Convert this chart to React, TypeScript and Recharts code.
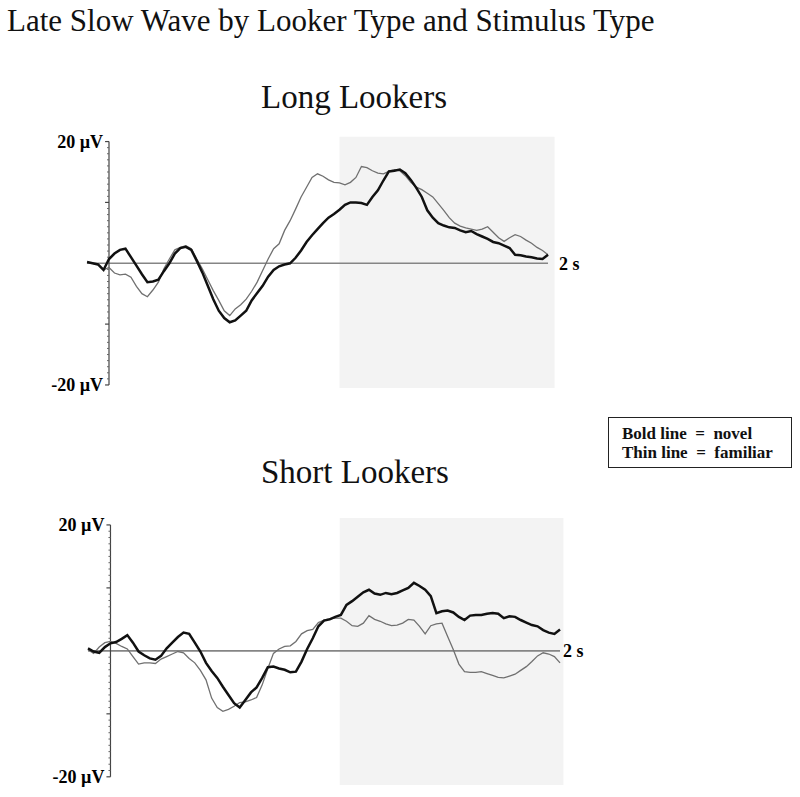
import { LineChart, Line, XAxis, YAxis, ReferenceArea, ReferenceLine } from "recharts";

const serif = '"Liberation Serif", "Times New Roman", serif';

// time in seconds, -100 ms baseline to 2 s
const times = [
  -0.1, -0.075, -0.05, -0.025, 0, 0.025, 0.05, 0.075, 0.1, 0.125,
  0.15, 0.175, 0.2, 0.225, 0.25, 0.275, 0.3, 0.325, 0.35, 0.375,
  0.4, 0.425, 0.45, 0.475, 0.5, 0.525, 0.55, 0.575, 0.6, 0.625,
  0.65, 0.675, 0.7, 0.725, 0.75, 0.775, 0.8, 0.825, 0.85, 0.875,
  0.9, 0.925, 0.95, 0.975, 1.0, 1.025, 1.05, 1.075, 1.1, 1.125,
  1.15, 1.175, 1.2, 1.225, 1.25, 1.275, 1.3, 1.325, 1.35, 1.375,
  1.4, 1.425, 1.45, 1.475, 1.5, 1.525, 1.55, 1.575, 1.6, 1.625,
  1.65, 1.675, 1.7, 1.725, 1.75, 1.775, 1.8, 1.825, 1.85, 1.875,
  1.9, 1.925, 1.95, 1.975, 2.0,
];

// µV, Long Lookers
const longNovel = [
  0.2, 0.0, -0.2, -1.1, 0.7, 1.6, 2.2, 2.4, 1.0, -0.4,
  -1.8, -3.1, -3.0, -2.7, -1.3, 0.0, 1.6, 2.5, 2.7, 2.2,
  0.4, -1.5, -3.7, -5.9, -7.8, -9.0, -9.7, -9.4, -8.6, -7.8,
  -6.1, -4.9, -3.7, -2.2, -1.1, -0.5, -0.2, 0.0, 0.9, 2.1,
  3.5, 4.6, 5.6, 6.6, 7.5, 8.1, 8.8, 9.6, 10.0, 10.0,
  9.9, 9.6, 10.9, 12.0, 13.6, 15.1, 15.2, 15.4, 14.8, 13.7,
  12.4, 10.9, 8.7, 7.5, 6.6, 6.2, 5.9, 5.8, 5.4, 5.1,
  5.3, 4.8, 4.4, 4.0, 3.5, 3.3, 2.9, 2.5, 1.4, 1.3,
  1.1, 1.0, 0.8, 0.7, 1.4,
];
const longFamiliar = [
  0.2, 0.0, -0.2, -1.1, -0.7, -1.6, -1.9, -1.8, -2.3, -3.8,
  -5.0, -5.5, -4.4, -3.1, -0.9, 0.7, 2.2, 2.6, 2.9, 2.4,
  0.7, -0.9, -2.7, -4.5, -6.1, -7.8, -8.6, -7.5, -6.8, -5.9,
  -4.6, -3.1, -1.2, 0.7, 2.4, 3.2, 5.4, 7.0, 8.9, 10.9,
  12.5, 14.1, 14.7, 14.3, 13.7, 13.3, 13.2, 12.9, 13.3, 14.1,
  15.9, 15.7, 15.2, 14.8, 14.7, 15.1, 15.4, 15.2, 14.4, 13.3,
  12.5, 12.1, 11.5, 10.9, 9.8, 8.7, 7.5, 6.6, 6.1, 5.8,
  5.6, 5.4, 5.6, 6.0, 5.1, 4.2, 3.6, 4.2, 4.7, 4.4,
  3.8, 3.3, 2.6, 2.1, 1.4,
];

// µV, Short Lookers
const shortNovel = [
  0.4, -0.1, -0.3, 0.6, 1.2, 1.4, 1.9, 2.5, 1.3, -0.1,
  -0.7, -1.2, -1.4, -0.8, 0.4, 1.3, 2.2, 2.9, 2.7, 1.3,
  -0.1, -1.9, -3.2, -4.3, -5.7, -7.0, -8.3, -9.0, -7.8, -6.6,
  -5.8, -4.3, -2.6, -2.5, -2.8, -3.0, -3.4, -3.3, -1.7, 0.3,
  2.0, 3.9, 4.8, 5.0, 5.4, 5.7, 7.3, 7.9, 8.6, 9.3,
  9.7, 9.1, 8.9, 9.2, 9.0, 9.2, 9.6, 10.0, 10.8, 10.3,
  9.7, 8.7, 6.0, 6.3, 6.4, 6.1, 5.4, 4.9, 5.6, 5.7,
  5.7, 5.9, 6.0, 5.9, 5.2, 5.5, 5.4, 4.9, 4.5, 4.1,
  3.9, 3.3, 2.9, 2.7, 3.4,
];
const shortFamiliar = [
  0.2, -0.4, 0.6, 1.3, 1.5, 1.2, 0.7, 0.3, -0.9, -2.1,
  -1.9, -1.9, -2.0, -1.3, -0.9, -0.5, -0.1, -0.3, -1.2, -1.9,
  -3.1, -4.6, -7.5, -9.0, -9.6, -9.3, -8.8, -8.2, -8.1, -7.8,
  -7.4, -5.4, -2.8, -0.4, 0.3, 0.7, 0.8, 1.5, 2.7, 3.2,
  3.4, 4.5, 4.9, 5.1, 5.2, 5.2, 4.7, 4.0, 3.9, 4.4,
  5.6, 5.0, 4.7, 4.3, 4.0, 4.1, 4.4, 5.0, 4.9, 3.9,
  2.7, 4.0, 4.3, 4.4, 2.3, 0.2, -2.1, -3.3, -3.4, -3.4,
  -3.3, -3.6, -3.9, -4.2, -4.3, -4.0, -3.7, -3.1, -2.5, -1.7,
  -0.8, -0.3, -0.5, -0.9, -1.9,
];

const majorTicks = [20, 10, -10, -20];
const minorTicks = [
  19, 18, 17, 16, 15, 14, 13, 12, 11, 9, 8, 7, 6, 5, 4, 3, 2, 1,
  -1, -2, -3, -4, -5, -6, -7, -8, -9, -11, -12, -13, -14, -15, -16, -17, -18, -19,
];

const axisLabel = { fill: "#000", fontSize: 18, fontWeight: "bold", fontFamily: serif };

type Margin = { top: number; right: number; bottom: number; left: number };

function WavePanel(props: {
  novel: number[];
  familiar: number[];
  height: number;
  margin: Margin;
  xDomain: [number, number];
  yDomain: [number, number];
  shade: [number, number];
  secondsGap: number;
}) {
  const { novel, familiar, height, margin, xDomain, yDomain, shade, secondsGap } = props;
  const data = times.map((t, i) => ({ t, novel: novel[i], familiar: familiar[i] }));
  const tickLen = 0.018;
  return (
    <LineChart width={800} height={height} data={data} margin={margin}>
      <XAxis dataKey="t" type="number" domain={xDomain} hide />
      <YAxis type="number" domain={yDomain} hide />
      <ReferenceArea x1={shade[0]} x2={shade[1]} fill="#f3f3f3" fillOpacity={1} stroke="none" />
      <ReferenceLine
        segment={[{ x: times[0], y: 0 }, { x: times[times.length - 1], y: 0 }]}
        stroke="#858585"
        strokeWidth={1.6}
        label={{ value: "2 s", position: "right", offset: secondsGap, ...axisLabel }}
      />
      <ReferenceLine segment={[{ x: 0, y: 20 }, { x: 0, y: -20 }]} stroke="#444" strokeWidth={1.2} />
      {minorTicks.map((v) => (
        <ReferenceLine key={"m" + v} segment={[{ x: -tickLen / 2, y: v }, { x: 0, y: v }]} stroke="#666" />
      ))}
      {majorTicks.map((v) => (
        <ReferenceLine
          key={"M" + v}
          segment={[{ x: -tickLen, y: v }, { x: 0, y: v }]}
          stroke="#444"
          strokeWidth={1.2}
          label={Math.abs(v) === 20 ? { value: `${v} µV`, position: "left", offset: 2, ...axisLabel } : undefined}
        />
      ))}
      <Line type="linear" dataKey="familiar" stroke="#707070" strokeWidth={1.3} dot={false} isAnimationActive={false} />
      <Line type="linear" dataKey="novel" stroke="#111" strokeWidth={2.5} dot={false} isAnimationActive={false} />
    </LineChart>
  );
}

export default function App() {
  return (
    <div style={{ position: "absolute", left: 0, top: 0, width: 800, height: 797, background: "#fff", fontFamily: serif, color: "#111" }}>
      <div style={{ position: "absolute", left: 7, top: 5, fontSize: 31, lineHeight: "31px", whiteSpace: "nowrap" }}>
        Late Slow Wave by Looker Type and Stimulus Type
      </div>
      <div style={{ position: "absolute", left: 261, top: 81, fontSize: 33, lineHeight: "33px", whiteSpace: "nowrap" }}>
        Long Lookers
      </div>
      <div style={{ position: "absolute", left: 261, top: 456, fontSize: 33, lineHeight: "33px", whiteSpace: "nowrap" }}>
        Short Lookers
      </div>

      <div style={{ position: "absolute", left: 0, top: 0 }}>
        <WavePanel
          novel={longNovel}
          familiar={longFamiliar}
          height={400}
          margin={{ top: 136.7, right: 245.4, bottom: 12, left: 87.05 }}
          xDomain={[-0.1, 2.03]}
          yDomain={[-20.5, 20.8]}
          shade={[1.05, 2.03]}
          secondsGap={11}
        />
      </div>
      <div style={{ position: "absolute", left: 0, top: 400 }}>
        <WavePanel
          novel={shortNovel}
          familiar={shortFamiliar}
          height={397}
          margin={{ top: 118, right: 236.6, bottom: 12, left: 88 }}
          xDomain={[-0.1, 2.015]}
          yDomain={[-21.3, 21.1]}
          shade={[1.02, 2.015]}
          secondsGap={3}
        />
      </div>

      <div
        style={{
          position: "absolute",
          left: 608,
          top: 417,
          width: 184,
          height: 51,
          boxSizing: "border-box",
          border: "1.5px solid #222",
          padding: "6px 0 0 13px",
          fontSize: 17,
          lineHeight: "19px",
          fontWeight: "bold",
          whiteSpace: "pre",
        }}
      >
        <div>{"Bold line  =  novel"}</div>
        <div>{"Thin line  =  familiar"}</div>
      </div>
    </div>
  );
}
